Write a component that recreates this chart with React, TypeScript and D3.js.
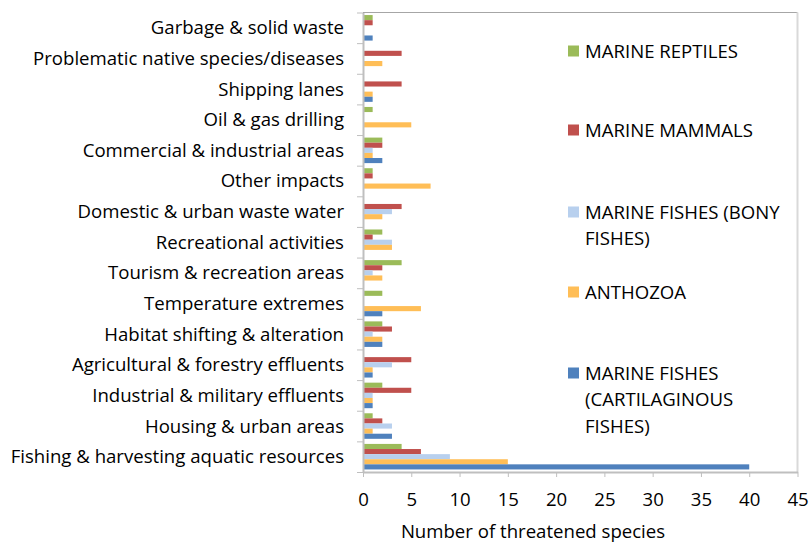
import { useRef, useEffect } from "react";
import * as d3 from "d3";

// categories, top to bottom as drawn
const categories = [
  "Garbage & solid waste",
  "Problematic native species/diseases",
  "Shipping lanes",
  "Oil & gas drilling",
  "Commercial & industrial areas",
  "Other impacts",
  "Domestic & urban waste water",
  "Recreational activities",
  "Tourism & recreation areas",
  "Temperature extremes",
  "Habitat shifting & alteration",
  "Agricultural & forestry effluents",
  "Industrial & military effluents",
  "Housing & urban areas",
  "Fishing & harvesting aquatic resources",
];

// values per series, same order as categories
const marineReptiles = [1, 0, 0, 1, 2, 1, 0, 2, 4, 2, 2, 0, 2, 1, 4];
const marineMammals = [1, 4, 4, 0, 2, 1, 4, 1, 2, 0, 3, 5, 5, 2, 6];
const bonyFishes = [0, 0, 0, 0, 1, 0, 3, 3, 1, 0, 1, 3, 1, 3, 9];
const anthozoa = [0, 2, 1, 5, 1, 7, 2, 3, 2, 6, 2, 1, 1, 1, 15];
const cartilaginousFishes = [1, 0, 1, 0, 2, 0, 0, 0, 0, 2, 2, 1, 1, 3, 40];

const seriesNames = [
  "MARINE REPTILES",
  "MARINE MAMMALS",
  "MARINE FISHES (BONY FISHES)",
  "ANTHOZOA",
  "MARINE FISHES (CARTILAGINOUS FISHES)",
];
// legend text wraps like the original
const legendLines = [
  ["MARINE REPTILES"],
  ["MARINE MAMMALS"],
  ["MARINE FISHES (BONY", "FISHES)"],
  ["ANTHOZOA"],
  ["MARINE FISHES", "(CARTILAGINOUS", "FISHES)"],
];
const legendRowY = [51, 130, 212, 292, 373];
const xTicks = [0, 5, 10, 15, 20, 25, 30, 35, 40, 45];

const colors = ["#9BBB59", "#C0504D", "#B8D0EE", "#FFBE57", "#4F81BD"];
const FONT = "'Open Sans', sans-serif";
const FS = 18.6;

export default function App() {
  const svgRef = useRef<SVGSVGElement>(null);

  useEffect(() => {
    const svg = d3.select(svgRef.current);
    svg.selectAll("*").remove();

    const width = 811;
    const height = 543;
    const left = 363;
    const right = 797.5;
    const top = 12.5;
    const bottom = 472;

    svg.attr("width", width).attr("height", height);

    const series = [marineReptiles, marineMammals, bonyFishes, anthozoa, cartilaginousFishes];

    // escalas
    const x = d3.scaleLinear().domain([0, 45]).range([left, right]);
    const y = d3.scaleBand<string>().domain(categories).range([top, bottom]);
    const yInner = d3
      .scaleBand<number>()
      .domain(d3.range(series.length))
      .range([0, y.bandwidth()])
      .paddingOuter(0.5);

    // marco del area
    svg
      .append("line")
      .attr("x1", left)
      .attr("x2", right)
      .attr("y1", top)
      .attr("y2", top)
      .attr("stroke", "#a6a6a6");
    svg
      .append("line")
      .attr("x1", right)
      .attr("x2", right)
      .attr("y1", top)
      .attr("y2", bottom)
      .attr("stroke", "#d9d9d9")
      .attr("stroke-width", 2);

    // barras
    categories.forEach((cat, i) => {
      const g = svg.append("g").attr("transform", `translate(0,${y(cat)})`);
      series.forEach((vals, s) => {
        if (!vals[i]) return;
        g.append("rect")
          .attr("x", x(0))
          .attr("y", yInner(s)!)
          .attr("width", x(vals[i]) - x(0))
          .attr("height", yInner.bandwidth())
          .attr("fill", colors[s]);
      });
    });

    // eje y: marcas entre categorias
    const yIdx = d3.scaleLinear().domain([0, categories.length]).range([top, bottom]);
    const yAxis = svg
      .append("g")
      .attr("transform", `translate(${left},0)`)
      .call(
        d3
          .axisLeft(yIdx)
          .tickValues(d3.range(categories.length + 1))
          .tickSize(6)
          .tickSizeOuter(0)
          .tickFormat(() => "")
      );
    yAxis.select(".domain").attr("stroke", "#bfbfbf").attr("stroke-width", 2);
    yAxis.selectAll(".tick line").attr("stroke", "#bfbfbf");

    // etiquetas de categorias
    svg
      .append("g")
      .selectAll("text")
      .data(categories)
      .join("text")
      .attr("x", left - 19)
      .attr("y", (d) => y(d)! + y.bandwidth() / 2)
      .attr("dy", "0.35em")
      .attr("text-anchor", "end")
      .attr("font-family", FONT)
      .attr("font-size", FS)
      .attr("fill", "#000")
      .text((d) => d);

    // eje x
    const xAxis = svg
      .append("g")
      .attr("transform", `translate(0,${bottom})`)
      .call(d3.axisBottom(x).tickValues(xTicks).tickSize(5).tickSizeOuter(0).tickPadding(16));
    xAxis.select(".domain").attr("stroke", "#bfbfbf").attr("stroke-width", 2);
    xAxis.selectAll(".tick line").attr("stroke", "#bfbfbf");
    xAxis
      .selectAll(".tick text")
      .attr("font-family", FONT)
      .attr("font-size", FS)
      .attr("fill", "#000");

    svg
      .append("text")
      .attr("x", 533)
      .attr("y", 537.5)
      .attr("text-anchor", "middle")
      .attr("font-family", FONT)
      .attr("font-size", FS)
      .attr("fill", "#000")
      .text("Number of threatened species");

    // leyenda
    const legend = svg.append("g");
    seriesNames.forEach((name, s) => {
      const row = legend.append("g").attr("transform", `translate(568,${legendRowY[s]})`);
      row
        .append("rect")
        .attr("x", 0)
        .attr("y", -5.5)
        .attr("width", 11)
        .attr("height", 11)
        .attr("fill", colors[s]);
      row
        .append("text")
        .attr("font-family", FONT)
        .attr("font-size", FS)
        .attr("fill", "#000")
        .attr("aria-label", name)
        .selectAll("tspan")
        .data(legendLines[s])
        .join("tspan")
        .attr("x", 17)
        .attr("y", (_, k) => k * 26.5)
        .attr("dy", "0.35em")
        .text((d) => d);
    });
  }, []);

  return (
    <svg
      ref={svgRef}
      style={{ position: "absolute", left: 0, top: 0, background: "#fff" }}
    ></svg>
  );
}
